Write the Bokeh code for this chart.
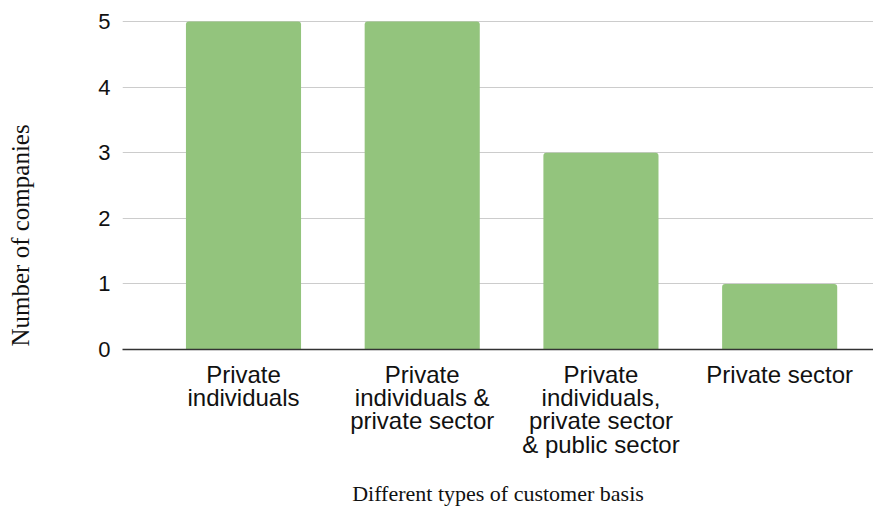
from bokeh.plotting import figure
from bokeh.models import Range1d, FixedTicker, Title, LinearAxis
from bokeh.embed import file_html
from bokeh.resources import INLINE

categories = ["Private\nindividuals",
              "Private\nindividuals &\nprivate sector",
              "Private\nindividuals,\nprivate sector\n& public sector",
              "Private sector"]
companies = [5, 5, 3, 1]
y_ticks = [0, 1, 2, 3, 4, 5]
x_title = "Different types of customer basis"
y_title = "Number of companies"

xs = list(range(len(categories)))

p = figure(width=873, height=508, output_backend="svg", toolbar_location=None,
           x_range=Range1d(-0.677, 3.525), y_range=Range1d(0, 5.046),
           min_border_left=122, min_border_right=0, min_border_top=18,
           min_border_bottom=158)
p.outline_line_color = None
p.background_fill_color = "white"

p.vbar(x=xs, top=companies, width=0.644, bottom=0, color="#93c47d",
       line_color=None, border_radius=(3, 3, 0, 0))

# axes
p.xaxis.ticker = FixedTicker(ticks=xs)
p.xaxis.major_label_overrides = {i: c for i, c in enumerate(categories)}
p.xaxis.major_tick_line_color = None
p.xaxis.minor_tick_line_color = None
p.xaxis.axis_line_color = "#333333"
p.xaxis.axis_line_width = 1.5
p.xaxis.major_label_text_font = "Liberation Sans"
p.xaxis.major_label_text_font_size = "24px"
p.xaxis.major_label_text_color = "#111111"
p.xaxis.major_label_text_line_height = 0.87
p.xaxis.major_label_standoff = 5
p.xaxis.axis_label = x_title
p.xaxis.axis_label_text_font = "Liberation Serif"
p.xaxis.axis_label_text_font_size = "22px"
p.xaxis.axis_label_text_font_style = "normal"
p.xaxis.axis_label_text_color = "#111111"
p.xaxis.axis_label_standoff = 20

p.yaxis.ticker = FixedTicker(ticks=y_ticks)
p.yaxis.major_tick_line_color = None
p.yaxis.minor_tick_line_color = None
p.yaxis.axis_line_color = None
p.yaxis.major_label_text_font = "Liberation Sans"
p.yaxis.major_label_text_font_size = "22px"
p.yaxis.major_label_text_color = "#111111"
p.yaxis.major_label_standoff = 6

p.xgrid.grid_line_color = None
p.ygrid.grid_line_color = "#cccccc"
p.ygrid.grid_line_width = 1

# empty spacer axis between the tick labels and the vertical title
spacer = LinearAxis(ticker=FixedTicker(ticks=[]), axis_line_color=None,
                    major_tick_line_color=None, minor_tick_line_color=None,
                    axis_label=" ", axis_label_text_font_size="1px",
                    axis_label_standoff=58)
p.add_layout(spacer, "left")

p.add_layout(Title(text=y_title, align="left", offset=3, standoff=0,
                   vertical_align="bottom",
                   text_font="Liberation Serif", text_font_size="25px",
                   text_font_style="normal", text_color="#111111"), "left")

open("out.html", "w").write(file_html(p, INLINE))
